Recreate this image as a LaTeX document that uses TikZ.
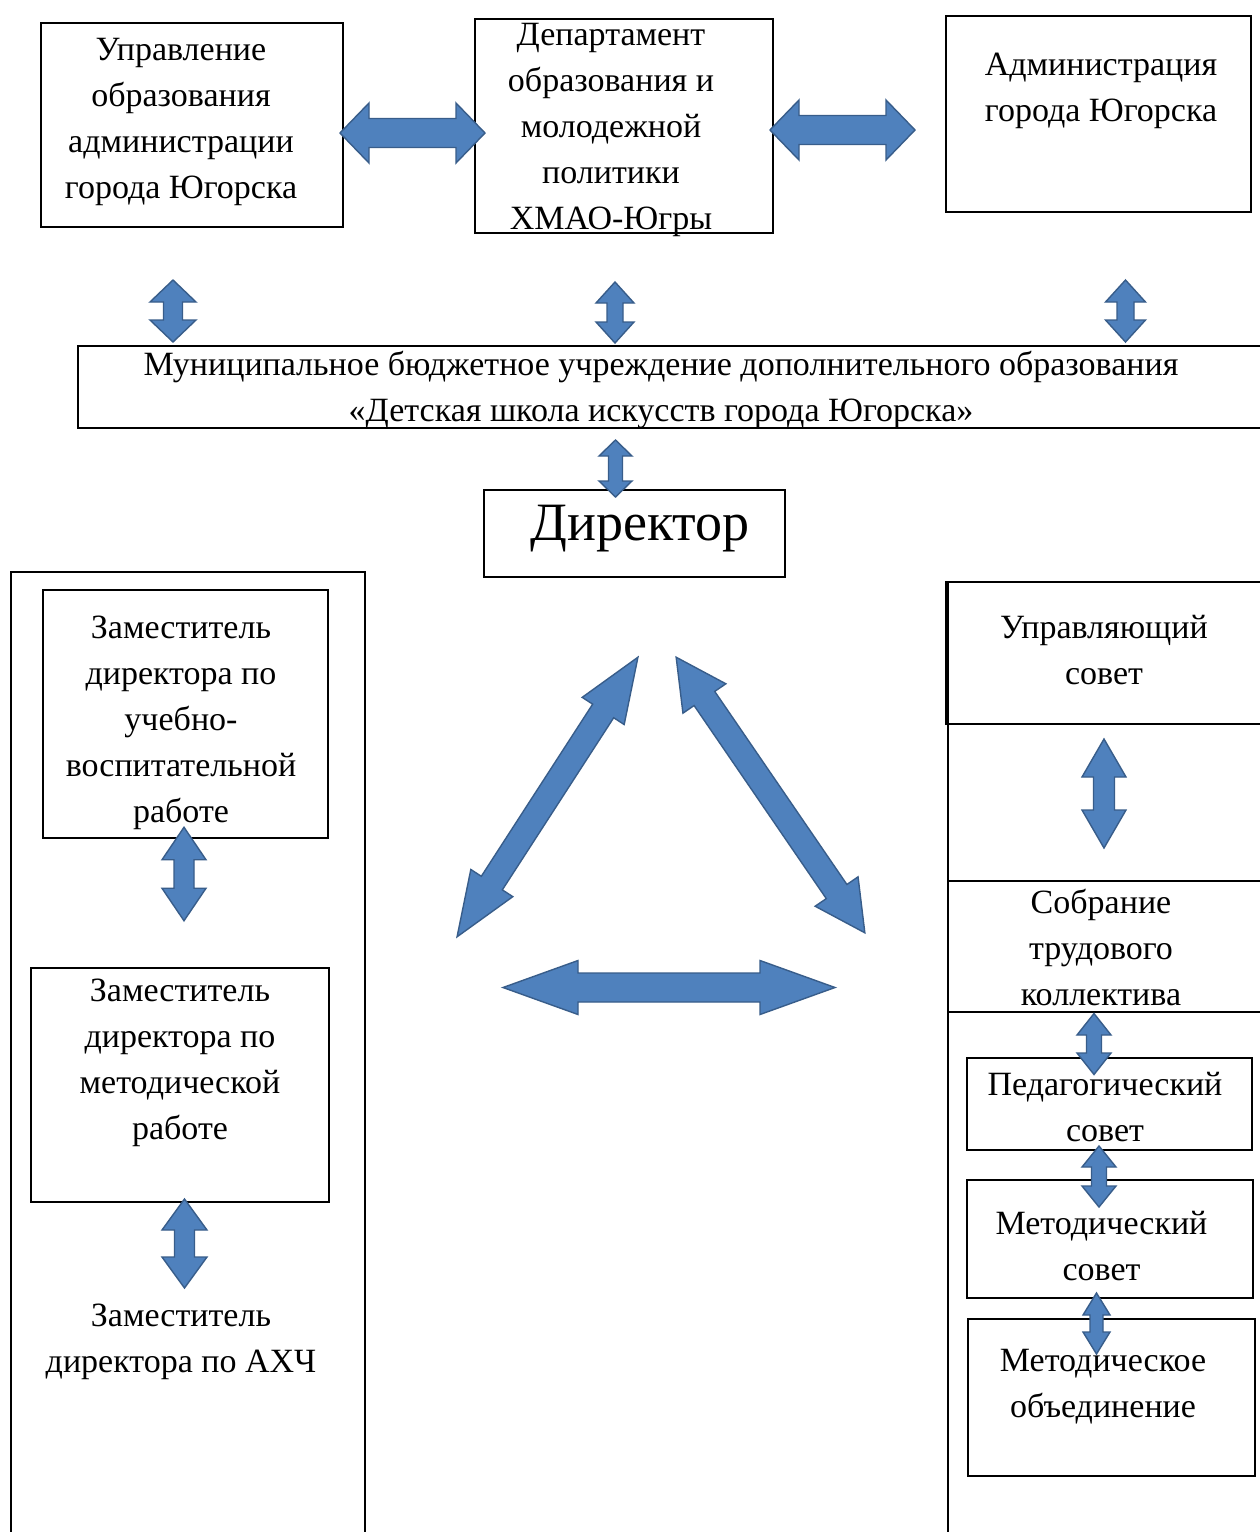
\documentclass[tikz,border=0pt]{standalone}
\usepackage{fontspec}
\setmainfont{Liberation Serif}
\definecolor{arrfill}{HTML}{4F81BD}
\definecolor{arrline}{HTML}{385D8A}
\tikzset{
  frame/.style={draw=black, line width=1.5pt, fill=none, inner sep=0pt, outer sep=0pt},
  txt/.style={align=center, inner sep=0pt, anchor=north, font=\fontsize{34}{46}\selectfont},
  barrow/.style={fill=arrfill, draw=arrline, line width=1.4pt, line join=miter},
}
% name, cx, cy, angle, L, H, W, S
\newcommand\blkarrow[8]{%
  \begin{scope}[shift={(#2,#3)}, rotate=#4]
    \coordinate (#1) at (0,0);
    \draw[barrow] ({-#5/2},0) -- ({-#5/2+#6},#7) -- ({-#5/2+#6},#8) -- ({#5/2-#6},#8) -- ({#5/2-#6},#7) -- ({#5/2},0) -- ({#5/2-#6},-#7) -- ({#5/2-#6},-#8) -- ({-#5/2+#6},-#8) -- ({-#5/2+#6},-#7) -- cycle;
  \end{scope}}
\begin{document}
\begin{tikzpicture}[x=1pt, y=-1pt]
\useasboundingbox (0,0) rectangle (1259,1532);
\fill[white] (0,0) rectangle (1259,1532);
% boxes
\node[frame, minimum width=302pt, minimum height=204pt] (A) at (192,125) {};
\node[frame, minimum width=298pt, minimum height=214pt] (B) at (624,126) {};
\node[frame, minimum width=305pt, minimum height=196pt] (C) at (1098.5,114) {};
\node[frame, minimum width=1192pt, minimum height=82pt] (D) at (674,387) {};
\node[frame, minimum width=301pt, minimum height=87pt] (Dir) at (634.5,533.5) {};
\node[frame, minimum width=354pt, minimum height=990pt] (LF) at (188,1067) {};
\node[frame, minimum width=285pt, minimum height=248pt] (E) at (185.5,714) {};
\node[frame, minimum width=298pt, minimum height=234pt] (F) at (180,1085) {};
\node[frame, minimum width=330pt, minimum height=980pt] (RF) at (1113,1072) {};
\node[frame, minimum width=332pt, minimum height=142pt] (US) at (1112,653) {};
\draw[line width=2.6pt] (US.north west) -- (US.north east);
\node[frame, minimum width=330pt, minimum height=131pt] (SB) at (1113,946.5) {};
\node[frame, minimum width=285pt, minimum height=92pt] (Ped) at (1109.5,1104) {};
\node[frame, minimum width=286pt, minimum height=118pt] (Met) at (1110,1239) {};
\node[frame, minimum width=287pt, minimum height=157pt] (MO) at (1111.5,1397.5) {};
% texts
\node[txt] (tA) at (181,27.8) {\strut Управление\\образования\\администрации\\города Югорска};
\node[txt] (tB) at (611,13.3) {\strut Департамент\\образования и\\молодежной\\политики\\ХМАО-Югры};
\node[txt] (tC) at (1101,42.8) {\strut Администрация\\города Югорска};
\node[txt] (tD) at (661,342.8) {\strut Муниципальное бюджетное учреждение дополнительного образования\\«Детская школа искусств города Югорска»};
\node[inner sep=0pt, anchor=base, font=\fontsize{54}{60}\selectfont] (tDir) at (640,540) {Директор};
\node[txt] (tE) at (181,605.8) {\strut Заместитель\\директора по\\учебно-\\воспитательной\\работе};
\node[txt] (tF) at (180,968.8) {\strut Заместитель\\директора по\\методической\\работе};
\node[txt] (tG) at (181,1293.8) {\strut Заместитель\\директора по АХЧ};
\node[txt] (tUS) at (1104,605.8) {\strut Управляющий\\совет};
\node[txt] (tSB) at (1101,880.8) {\strut Собрание\\трудового\\коллектива};
\node[txt] (tPed) at (1105,1063.3) {\strut Педагогический\\совет};
\node[txt] (tMet) at (1101.5,1201.8) {\strut Методический\\совет};
\node[txt] (tMO) at (1103,1338.8) {\strut Методическое\\объединение};
% block arrows
\blkarrow{aAB}{412.5}{133}{0}{145}{29}{30}{14.5}
\blkarrow{aBC}{842.5}{130}{0}{145}{29}{30}{14.5}
\blkarrow{avL}{173}{311}{90}{62}{22}{23}{9.5}
\blkarrow{avM}{615}{312.5}{90}{61}{21}{19}{8}
\blkarrow{avR}{1125.5}{311}{90}{62}{22}{20}{8.5}
\blkarrow{avD}{615.5}{468.5}{90}{57}{16}{16.5}{7}
\blkarrow{adL}{547.5}{797}{57.1}{333}{64}{25}{12.5}
\blkarrow{adR}{770.5}{795}{-55.6}{334}{50}{26}{12.5}
\blkarrow{ahB}{669}{987.5}{0}{332}{75}{27}{14.5}
\blkarrow{aEF}{184}{874}{90}{93.5}{32.5}{22}{10}
\blkarrow{aFG}{184.5}{1243.5}{90}{89}{31}{22.5}{10}
\blkarrow{aRS}{1104}{793.5}{90}{109}{38}{22}{10.5}
\blkarrow{a1}{1094}{1044}{90}{61}{21.5}{17}{7.5}
\blkarrow{a2}{1099}{1176.5}{90}{61}{21}{17}{7.5}
\blkarrow{a3}{1096.5}{1323.5}{90}{61}{22}{13.5}{6.5}
\end{tikzpicture}
\end{document}
